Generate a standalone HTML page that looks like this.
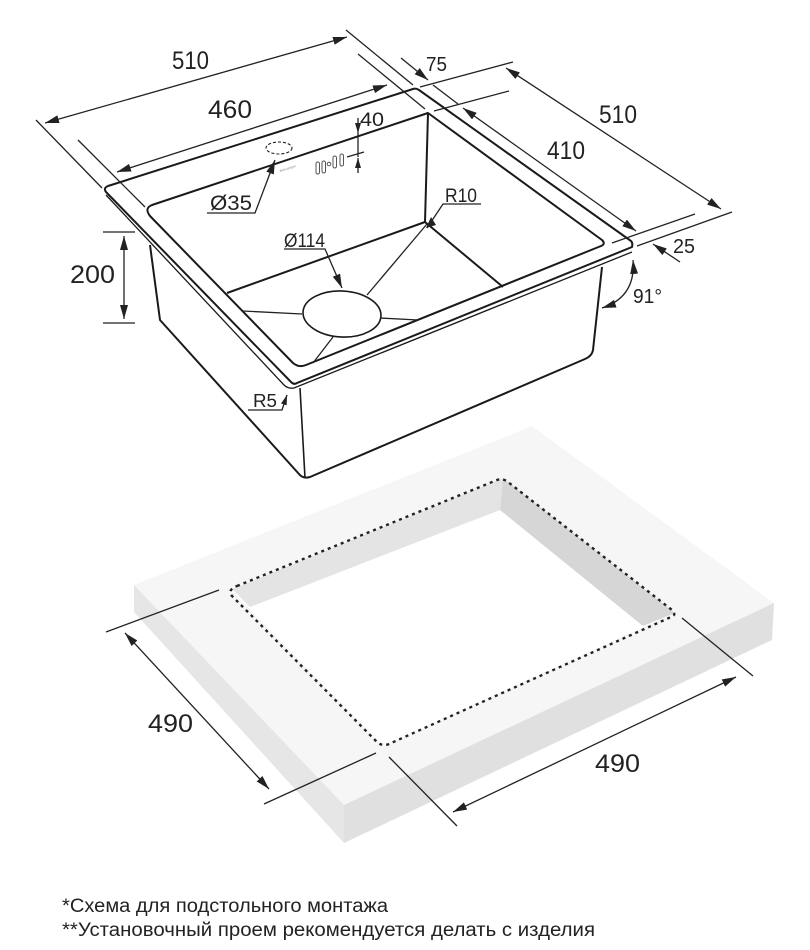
<!DOCTYPE html>
<html><head><meta charset="utf-8"><style>
html,body{margin:0;padding:0;background:#fff}
svg{display:block}
text{font-family:"Liberation Sans",sans-serif;fill:#222}
.d{stroke:#222;stroke-width:1.3;fill:none}
.s{stroke:#1a1a1a;stroke-width:2;fill:none;stroke-linejoin:round}
.t{stroke:#222;stroke-width:1.3;fill:none}
</style></head><body>
<svg width="810" height="950" viewBox="0 0 810 950" xmlns="http://www.w3.org/2000/svg">
<defs>
<marker id="a" viewBox="0 0 14 8" refX="14" refY="4" markerWidth="14" markerHeight="8" markerUnits="userSpaceOnUse" orient="auto-start-reverse"><path d="M0 0L14 4L0 8Z" fill="#222"/></marker>
<marker id="b" viewBox="0 0 10 6" refX="10" refY="3" markerWidth="10" markerHeight="6" markerUnits="userSpaceOnUse" orient="auto-start-reverse"><path d="M0 0L10 3L0 6Z" fill="#222"/></marker>
</defs>

<!-- slab -->
<polygon points="134,585 532,426 774,603 344,805" fill="#f6f6f6"/>
<polygon points="134,585 344,805 344,843 134,612" fill="#e6e6e6"/>
<polygon points="344,805 774,603 772,640 344,843" fill="#e0e0e0"/>
<polygon points="230,589 503,478 675,613 383,746" fill="#fff"/>
<polygon points="232,589 503,478 500,510 250,607" fill="#e4e4e4"/>
<polygon points="503,478 675,613 643,626 500,510" fill="#d6d6d6"/>
<path d="M237 586L497 480Q503 478 508 482L672 610Q677 615 671 617L389 744Q382 747 376 741L232 596Q227 590 237 586Z" fill="none" stroke="#222" stroke-width="2.4" stroke-dasharray="3 4"/>

<!-- slab dims -->
<line class="d" x1="106" y1="632" x2="219" y2="590"/>
<line class="d" x1="264" y1="804" x2="376" y2="753"/>
<line class="d" x1="125" y1="633" x2="269" y2="789" marker-start="url(#a)" marker-end="url(#a)"/>
<line class="d" x1="389" y1="757" x2="457" y2="826"/>
<line class="d" x1="682" y1="618" x2="753" y2="676"/>
<line class="d" x1="453" y1="812" x2="736" y2="677" marker-start="url(#a)" marker-end="url(#a)"/>
<text x="148" y="732" font-size="25" textLength="45" lengthAdjust="spacingAndGlyphs">490</text>
<text x="595" y="772" font-size="25" textLength="45" lengthAdjust="spacingAndGlyphs">490</text>

<!-- sink body -->
<path class="s" d="M150 245L160 320L299 474Q303 479 310 477L585 359Q592 356 593 350L602 267"/>
<line class="s" x1="300" y1="388" x2="305" y2="478" style="stroke-width:1.6"/>
<!-- rim -->
<path class="s" d="M108 186L413 89Q416 88 419 90L631 241Q633 243 632 247L297 383Q294 385 291 382L106 192Q103 188 108 186Z"/>
<path d="M106 195L284 385Q288 389 294 388L632 252" fill="none" stroke="#1a1a1a" stroke-width="1.3"/>
<!-- inner -->
<path class="s" d="M152 205L428 113L602 240Q606 244 601 246L306 365Q299 368 293 363L150 216Q144 208 152 205Z"/>
<!-- bowl -->
<path class="s" d="M428 113L425 222L227 293"/>
<line class="s" x1="425" y1="222" x2="503" y2="287"/>
<ellipse cx="342" cy="314" rx="39" ry="23" fill="#fff" stroke="#1a1a1a" stroke-width="1.6" transform="rotate(3 342 314)"/>
<g style="stroke:#222;stroke-width:1.3;fill:none">
<line x1="367" y1="295" x2="427" y2="224"/>
<line x1="302" y1="314" x2="243" y2="311"/>
<line x1="380" y1="318" x2="418" y2="320"/>
<line x1="333" y1="337" x2="313" y2="363"/>
</g>
<!-- top details -->
<ellipse cx="279" cy="148" rx="13" ry="6" fill="none" stroke="#222" stroke-width="1.1" stroke-dasharray="3 2"/>
<g fill="none" stroke="#555" stroke-width="1">
<rect x="316" y="162" width="3.5" height="12" rx="1.7"/>
<rect x="322" y="161" width="3.5" height="12" rx="1.7"/>
<circle cx="329" cy="164" r="1.8"/>
<rect x="333" y="156" width="3.5" height="12" rx="1.7"/>
<rect x="340" y="154" width="3.5" height="12" rx="1.7"/>
</g>
<text x="280" y="172" font-size="3.5" transform="rotate(-17 280 172)" style="fill:#888">alveusnpm</text>

<!-- top dims -->
<line class="d" x1="36" y1="120" x2="102" y2="188"/>
<line class="d" x1="346" y1="30" x2="413" y2="85"/>
<line class="d" x1="45" y1="123" x2="347" y2="37" marker-start="url(#a)" marker-end="url(#a)"/>
<line class="d" x1="78" y1="140" x2="145" y2="207"/>
<line class="d" x1="358" y1="54" x2="425" y2="109"/>
<line class="d" x1="117" y1="172" x2="387" y2="85" marker-start="url(#a)" marker-end="url(#a)"/>
<text x="172" y="69" font-size="25" textLength="37" lengthAdjust="spacingAndGlyphs">510</text>
<text x="208" y="118" font-size="25" textLength="44" lengthAdjust="spacingAndGlyphs">460</text>

<!-- 40 -->
<line class="d" x1="358" y1="118" x2="358" y2="133" marker-end="url(#b)"/>
<line class="d" x1="358" y1="133" x2="358" y2="157"/>
<line class="d" x1="347" y1="157" x2="364" y2="152"/>
<line class="d" x1="358" y1="173" x2="358" y2="158" marker-end="url(#b)"/>
<text x="360" y="126" font-size="19" textLength="24" lengthAdjust="spacingAndGlyphs">40</text>

<!-- Ø35 -->
<path class="d" d="M207 213H255L275 160" marker-end="url(#a)"/>
<text x="210" y="210" font-size="21" textLength="42" lengthAdjust="spacingAndGlyphs">Ø35</text>
<!-- Ø114 -->
<path class="d" d="M284 249H325L342 288" marker-end="url(#a)"/>
<text x="284" y="247" font-size="19" textLength="41" lengthAdjust="spacingAndGlyphs">Ø114</text>
<!-- R10 -->
<path class="d" d="M481 204H443L427 228"/>
<polygon points="431,217 426,228 436,225" fill="#222"/>
<text x="445" y="202" font-size="19" textLength="32" lengthAdjust="spacingAndGlyphs">R10</text>
<!-- R5 -->
<path class="d" d="M248 410H282L287 395" marker-end="url(#b)"/>
<text x="253" y="407" font-size="18" textLength="24" lengthAdjust="spacingAndGlyphs">R5</text>
<!-- 200 -->
<line class="d" x1="103" y1="232" x2="135" y2="232"/>
<line class="d" x1="103" y1="323" x2="135" y2="323"/>
<line class="d" x1="124" y1="236" x2="124" y2="319" marker-start="url(#a)" marker-end="url(#a)"/>
<text x="70" y="283" font-size="25" textLength="45" lengthAdjust="spacingAndGlyphs">200</text>

<!-- right dims -->
<line class="d" x1="401" y1="58" x2="428" y2="80" marker-end="url(#a)"/>
<line class="d" x1="433" y1="85" x2="458" y2="104"/>
<text x="426" y="71" font-size="20" textLength="21" lengthAdjust="spacingAndGlyphs">75</text>
<line class="d" x1="420" y1="87" x2="513" y2="62"/>
<line class="d" x1="434" y1="111" x2="509" y2="91"/>
<line class="d" x1="506" y1="68" x2="721" y2="209" marker-start="url(#a)" marker-end="url(#a)"/>
<line class="d" x1="463" y1="108" x2="636" y2="231" marker-start="url(#a)" marker-end="url(#a)"/>
<line class="d" x1="637" y1="246" x2="732" y2="212"/>
<line class="d" x1="612" y1="243" x2="695" y2="214"/>
<text x="599" y="123" font-size="25" textLength="38" lengthAdjust="spacingAndGlyphs">510</text>
<text x="547" y="159" font-size="25" textLength="38" lengthAdjust="spacingAndGlyphs">410</text>
<line class="d" x1="680" y1="262" x2="653" y2="244" marker-end="url(#a)"/>
<text x="673" y="253" font-size="20" textLength="22" lengthAdjust="spacingAndGlyphs">25</text>
<path class="d" d="M633 260Q636 297 602 308" marker-start="url(#a)" marker-end="url(#a)"/>
<text x="633" y="303" font-size="20" textLength="29" lengthAdjust="spacingAndGlyphs">91°</text>

<!-- footer -->
<text x="62" y="912" font-size="19" textLength="326" lengthAdjust="spacingAndGlyphs" style="font-family:'Liberation Sans','Noto Sans CJK SC',sans-serif">*Схема для подстольного монтажа</text>
<text x="62" y="936" font-size="19" textLength="533" lengthAdjust="spacingAndGlyphs" style="font-family:'Liberation Sans','Noto Sans CJK SC',sans-serif">**Установочный проем рекомендуется делать с изделия</text>
</svg>
</body></html>
